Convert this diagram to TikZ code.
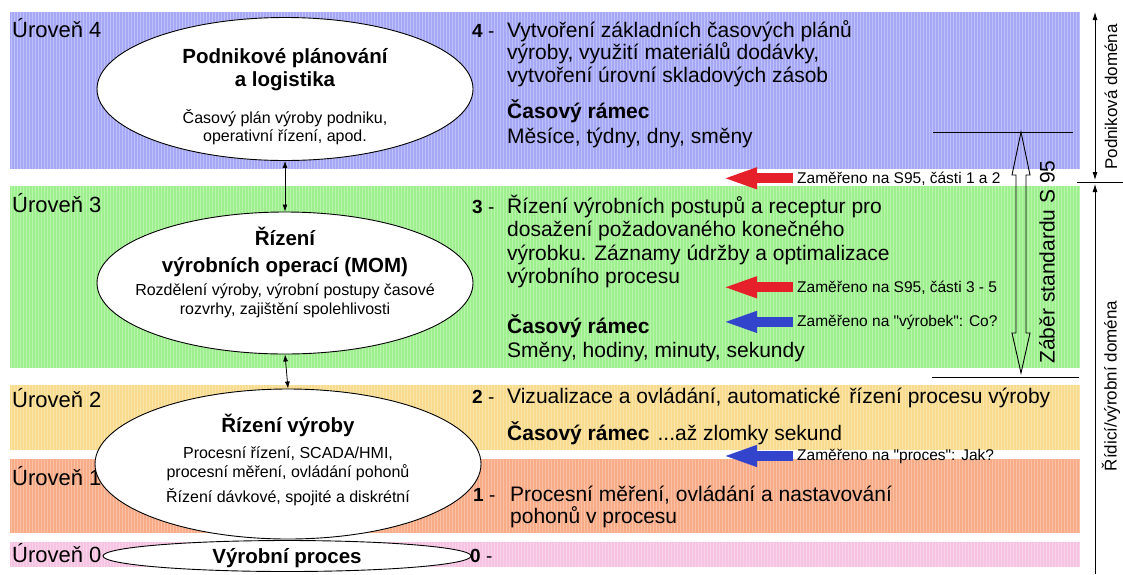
\documentclass[tikz,border=0pt]{standalone}
\usepackage{fontspec}
\setmainfont{Liberation Sans}
\newfontfamily\zamfont{Liberation Sans}
\usetikzlibrary{arrows.meta,shapes.geometric}
\definecolor{bandblue}{HTML}{A6A8F6}
\definecolor{bandgreen}{HTML}{9EF08E}
\definecolor{bandyellow}{HTML}{F9DB8E}
\definecolor{bandorange}{HTML}{F7AB86}
\definecolor{bandpink}{HTML}{F7C3E3}
\definecolor{arrred}{HTML}{E5202A}
\definecolor{arrblue}{HTML}{3344CC}
\begin{document}
\begin{tikzpicture}[x=1pt,y=-1pt,
  lvl/.style={anchor=base west, inner sep=0pt, font=\fontsize{22}{24}\selectfont},
  txt/.style={anchor=base west, inner sep=0pt, font=\fontsize{21}{23}\selectfont},
  num/.style={anchor=base west, inner sep=0pt, font=\fontsize{19}{23}\selectfont},
  etitle/.style={anchor=base, inner sep=0pt, font=\fontsize{20.5}{23}\selectfont\bfseries},
  esmall/.style={anchor=base, inner sep=0pt, font=\fontsize{16}{18}\selectfont},
  ell/.style={ellipse, draw=black, line width=0.9pt, fill=white, inner sep=0pt},
  zam/.style={anchor=base west, inner sep=0pt, font=\zamfont\fontsize{15.5}{17}\selectfont},
  blockarr/.style={line width=10pt, -{Triangle[length=35pt,width=19pt]}},
  dbl/.style={line width=0.8pt, {Latex[length=7pt,width=5pt]}-{Latex[length=7pt,width=5pt]}},
  dom/.style={anchor=center, inner sep=0pt, rotate=90, font=\fontsize{17}{19}\selectfont},
]
\useasboundingbox (0,0) rectangle (1123,574);
\fill[white] (0,0) rectangle (1123,574);
% bands
\fill[bandblue]   (10,12)  rectangle (1080,169);
\fill[bandgreen]  (10,186) rectangle (1080,368);
\fill[bandyellow] (10,385) rectangle (1080,450);
\fill[bandorange] (10,459) rectangle (1080,533);
\fill[bandpink]   (10,542) rectangle (1080,567);
\begin{scope}
  \clip (10,12) rectangle (1080,169) (10,186) rectangle (1080,368)
        (10,385) rectangle (1080,450) (10,459) rectangle (1080,533)
        (10,542) rectangle (1080,567);
  \foreach \x in {11,14,...,1079} \draw[white, opacity=0.28, line width=0.8pt] (\x,12) -- (\x,567);
\end{scope}
% level labels
\node[lvl] (u4) at (12,37) {Úroveň 4};
\node[lvl] (u3) at (12,212) {Úroveň 3};
\node[lvl] (u2) at (12,407) {Úroveň 2};
\node[lvl] (u1) at (12,485) {Úroveň 1};
\node[lvl] (u0) at (12,562) {Úroveň 0};
% ellipses
\node[ell, minimum width=376pt, minimum height=143pt] (e4) at (285,89) {};
\node[ell, minimum width=376pt, minimum height=142pt] (e3) at (285,283) {};
\node[ell, minimum width=386pt, minimum height=150pt] (e2) at (288,464) {};
\node[ell, minimum width=368pt, minimum height=31pt] (e0) at (287,556) {};
\draw[dbl] (e4.south) -- (e3.north);
\draw[dbl] (e3.south) -- (e2.north);
% ellipse texts
\node[etitle] (t4a) at (285,63) {Podnikové plánování};
\node[etitle] (t4b) at (285,86) {a logistika};
\node[esmall] (s4a) at (285,123) {Časový plán výroby podniku,};
\node[esmall] (s4b) at (285,141) {operativní řízení, apod.};
\node[etitle] (t3a) at (285,245) {Řízení};
\node[etitle] (t3b) at (285,272) {výrobních operací (MOM)};
\node[esmall] (s3a) at (285,295) {Rozdělení výroby, výrobní postupy časové};
\node[esmall] (s3b) at (285,314) {rozvrhy, zajištění spolehlivosti};
\node[etitle] (t2a) at (288,432) {Řízení výroby};
\node[esmall] (s2a) at (288,458) {Procesní řízení, SCADA/HMI,};
\node[esmall] (s2b) at (288,477) {procesní měření, ovládání pohonů};
\node[esmall] (s2c) at (288,502) {Řízení dávkové, spojité a diskrétní};
\node[etitle] (t0a) at (287,563) {Výrobní proces};
% right texts
\node[num] (n4) at (472,37) {\textbf{4} -};
\node[txt] (l4a) at (507,37) {Vytvoření základních časových plánů};
\node[txt] (l4b) at (507,59) {výroby, využití materiálů dodávky,};
\node[txt] (l4c) at (507,82) {vytvoření úrovní skladových zásob};
\node[txt] (l4d) at (507,118) {\textbf{Časový rámec}};
\node[txt] (l4e) at (507,143) {Měsíce, týdny, dny, směny};
\node[num] (n3) at (472,213) {\textbf{3} -};
\node[txt] (l3a) at (507,213) {Řízení výrobních postupů a receptur pro};
\node[txt] (l3b) at (507,236) {dosažení požadovaného konečného};
\node[txt] (l3c) at (507,260) {výrobku. Záznamy údržby a optimalizace};
\node[txt] (l3d) at (507,283) {výrobního procesu};
\node[txt] (l3e) at (507,333) {\textbf{Časový rámec}};
\node[txt] (l3f) at (507,357) {Směny, hodiny, minuty, sekundy};
\node[num] (n2) at (472,403) {\textbf{2} -};
\node[txt] (l2a) at (507,403) {Vizualizace a ovládání, automatické\hspace{3pt} řízení procesu výroby};
\node[txt] (l2b) at (507,440) {\textbf{Časový rámec}\hspace{8pt}...až zlomky sekund};
\node[num] (n1) at (473,501) {\textbf{1} -};
\node[txt] (l1a) at (510,501) {Procesní měření, ovládání a nastavování};
\node[txt] (l1b) at (510,523) {pohonů v procesu};
\node[num] (n0) at (470,562) {\textbf{0} -};
% focus arrows
\coordinate (tipx) at (722,0);
\node[zam] (z1) at (797,183) {Zaměřeno na S95, části 1 a 2};
\node[zam] (z2) at (797,292) {Zaměřeno na S95, části 3 - 5};
\node[zam] (z3) at (797,326) {Zaměřeno na "výrobek": Co?};
\node[zam] (z4) at (797,460) {Zaměřeno na "proces": Jak?};
\draw[blockarr, arrred]  ([xshift=-4pt]z1.west) -- (z1.west -| tipx);
\draw[blockarr, arrred]  ([xshift=-4pt]z2.west) -- (z2.west -| tipx);
\draw[blockarr, arrblue] ([xshift=-4pt]z3.west) -- (z3.west -| tipx);
\draw[blockarr, arrblue] ([xshift=-4pt]z4.west) -- (z4.west -| tipx);
% scope of standard
\draw[line width=0.9pt] (933,132) -- (1073,132);
\draw[line width=0.9pt] (932,377) -- (1079,377);
\draw[line width=0.9pt, line join=miter] (1021,132) -- (1030,175) -- (1026,175) -- (1026,333) -- (1030,333)
  -- (1021,373) -- (1012,333) -- (1016,333) -- (1016,175) -- (1012,175) -- cycle;
\node[dom, font=\fontsize{21}{23}\selectfont] (scope) at (1047,262) {Záběr standardu S 95};
% domains
\coordinate (d0) at (1095,12);
\coordinate (d1) at (1095,180);
\coordinate (d2) at (1095,184);
\coordinate (d3) at (1095,574);
\draw[line width=0.8pt, {Latex[length=8pt,width=5pt]}-{Latex[length=8pt,width=5pt]}] (d1) -- (d0);
\draw[line width=0.8pt, {Latex[length=8pt,width=5pt]}-] (d2) -- (d3);
\draw[line width=0.8pt] (1077,182) -- (1123,182);
\node[dom] (dpod) at (1111,97) {Podniková doména};
\node[dom] (drid) at (1111,386) {Řídicí/výrobní doména};
\end{tikzpicture}
\end{document}
